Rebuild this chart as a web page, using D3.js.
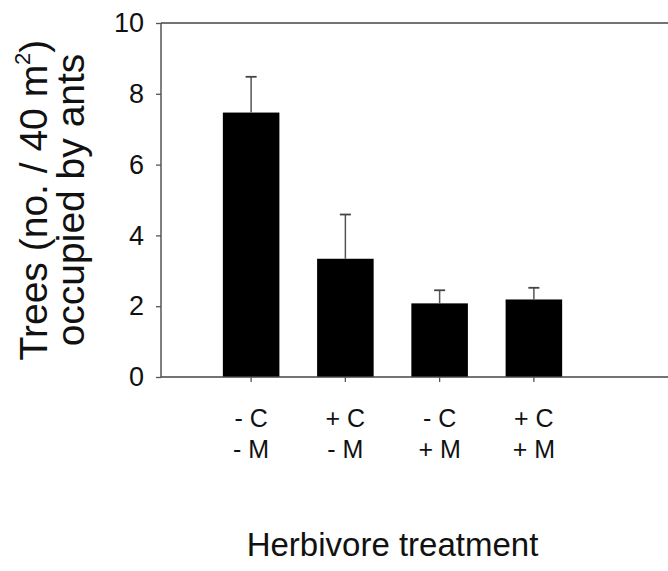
<!DOCTYPE html>
<html>
<head>
<meta charset="utf-8">
<script src="https://cdn.jsdelivr.net/npm/d3@7"></script>
<style>
  body { margin: 0; background: #fff; }
  text { font-family: "Liberation Sans", Arial, sans-serif; fill: #111; }
</style>
</head>
<body>
<div id="chart"></div>
<script>
// data
var treatments = ["-C-M", "+C-M", "-C+M", "+C+M"];
var labelTop = ["- C", "+ C", "- C", "+ C"];
var labelBottom = ["- M", "- M", "+ M", "+ M"];
var means = [7.47, 3.34, 2.08, 2.19];
var errors = [1.01, 1.25, 0.37, 0.33];
var yTicks = [0, 2, 4, 6, 8, 10];

var width = 668, height = 571;
var axisLeft = 161, axisRight = 668
  , plotTop = 23, plotBottom = 377;

var svg = d3.select("#chart").append("svg")
    .attr("width", width)
    .attr("height", height);

var xScale = d3.scaleBand()
    .domain(treatments)
    .range([204, 581])
    .paddingInner(0.4)
    .paddingOuter(0.2);

var yScale = d3.scaleLinear()
    .domain([0, 10])
    .range([plotBottom, plotTop]);

// bars
svg.selectAll(".bar")
    .data(means)
  .enter().append("rect")
    .attr("class", "bar")
    .attr("x", function(d, i) { return xScale(treatments[i]); })
    .attr("y", function(d) { return yScale(d); })
    .attr("width", xScale.bandwidth())
    .attr("height", function(d) { return yScale(0) - yScale(d); })
    .attr("fill", "#000");

// error bars (upper only)
var capW = 11;
svg.selectAll(".err")
    .data(means)
  .enter().append("line")
    .attr("class", "err")
    .attr("x1", function(d, i) { return xScale(treatments[i]) + xScale.bandwidth() / 2; })
    .attr("x2", function(d, i) { return xScale(treatments[i]) + xScale.bandwidth() / 2; })
    .attr("y1", function(d) { return yScale(d); })
    .attr("y2", function(d, i) { return yScale(d + errors[i]); })
    .attr("stroke", "#555")
    .attr("stroke-width", 1.5);

svg.selectAll(".cap")
    .data(means)
  .enter().append("line")
    .attr("class", "cap")
    .attr("x1", function(d, i) { return xScale(treatments[i]) + xScale.bandwidth() / 2 - capW / 2; })
    .attr("x2", function(d, i) { return xScale(treatments[i]) + xScale.bandwidth() / 2 + capW / 2; })
    .attr("y1", function(d, i) { return yScale(d + errors[i]); })
    .attr("y2", function(d, i) { return yScale(d + errors[i]); })
    .attr("stroke", "#444")
    .attr("stroke-width", 1.8);

// y axis
var yAxis = svg.append("g")
    .attr("transform", "translate(" + axisLeft + ",0)")
    .call(d3.axisLeft(yScale).tickValues(yTicks).tickSize(5).tickPadding(12).tickFormat(d3.format("d")));
yAxis.select(".domain").remove();
yAxis.selectAll("line").attr("stroke", "#555").attr("stroke-width", 1.3);
yAxis.selectAll("text")
    .style("font-size", "27px")
    .style("font-family", "'Liberation Sans', Arial, sans-serif")
    .attr("fill", "#111");

// frame lines
svg.append("line")
    .attr("x1", axisLeft).attr("x2", axisLeft)
    .attr("y1", yScale(10)).attr("y2", yScale(0))
    .attr("stroke", "#555").attr("stroke-width", 1.5);
svg.append("line")
    .attr("x1", axisLeft).attr("x2", axisRight)
    .attr("y1", yScale(10)).attr("y2", yScale(10))
    .attr("stroke", "#444").attr("stroke-width", 1.5);
svg.append("line")
    .attr("x1", axisLeft).attr("x2", axisRight)
    .attr("y1", yScale(0)).attr("y2", yScale(0))
    .attr("stroke", "#444").attr("stroke-width", 1.5);

// x ticks
var xAxis = svg.append("g")
    .attr("transform", "translate(0," + plotBottom + ")")
    .call(d3.axisBottom(xScale).tickSize(5).tickFormat(""));
xAxis.select(".domain").remove();
xAxis.selectAll("line").attr("stroke", "#555").attr("stroke-width", 1.3);

// x tick labels, two lines
treatments.forEach(function(t, i) {
  var cx = xScale(t) + xScale.bandwidth() / 2;
  var txt = svg.append("text")
      .attr("text-anchor", "middle")
      .style("font-size", "25px");
  txt.append("tspan").attr("x", cx).attr("y", 427).text(labelTop[i]);
  txt.append("tspan").attr("x", cx).attr("y", 458).text(labelBottom[i]);
});

// y axis title
var yTitle = svg.append("text")
    .attr("transform", "translate(0," + ((plotTop + plotBottom) / 2) + ") rotate(-90)")
    .attr("text-anchor", "middle")
    .style("font-size", "39px");
var l1 = yTitle.append("tspan").attr("x", 0).attr("y", 47);
l1.append("tspan").text("Trees (no. / 40 m");
l1.append("tspan").attr("dy", -17).style("font-size", "22px").text("2");
l1.append("tspan").attr("dy", 17).text(")");
yTitle.append("tspan").attr("x", 0).attr("y", 84).text("occupied by ants");

// x axis title
svg.append("text")
    .attr("x", (xScale(treatments[0]) + xScale(treatments[3]) + xScale.bandwidth()) / 2)
    .attr("y", 556)
    .attr("text-anchor", "middle")
    .style("font-size", "33px")
    .text("Herbivore treatment");
</script>
</body>
</html>
